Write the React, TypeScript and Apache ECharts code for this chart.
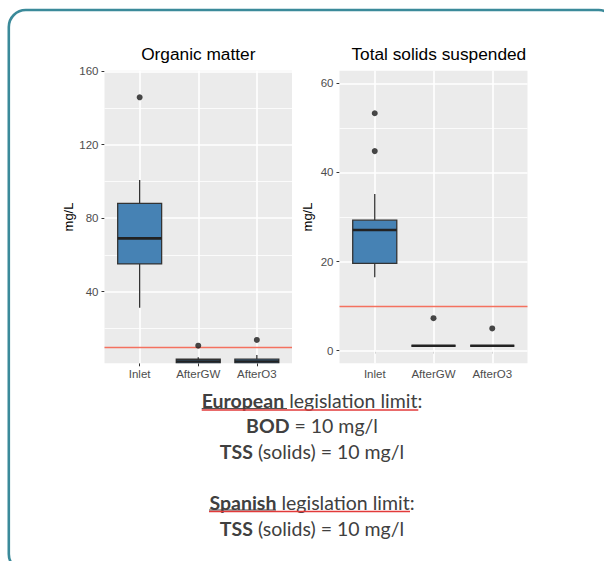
import React, { useEffect, useRef } from 'react';
import * as echarts from 'echarts';

const categories = ['Inlet', 'AfterGW', 'AfterO3'];
const panelTitles = ['Organic matter', 'Total solids suspended'];
const yAxisName = 'mg/L';

// [low whisker, Q1, median, Q3, high whisker] per category
const organicBoxes = [
  [31.3, 55.1, 69.0, 88.1, 100.8],
  [1.0, 1.0, 2.0, 3.2, 4.3],
  [1.0, 1.0, 2.0, 3.3, 5.5],
];
// [category position, value]
const organicOutliers = [
  [1, 145.8],
  [2, 10.6],
  [3, 13.7],
];
const solidsBoxes = [
  [16.5, 19.6, 27.1, 29.3, 35.2],
  [1.1, 1.1, 1.1, 1.1, 1.1],
  [1.1, 1.1, 1.1, 1.1, 1.1],
];
const solidsOutliers = [
  [1, 53.3],
  [1, 44.8],
  [2, 7.3],
  [3, 5.0],
];

const organicTicks = [40, 80, 120, 160];
const organicMinor = [20, 60, 100, 140];
const organicRange = [1.0, 160.3];
const solidsTicks = [0, 20, 40, 60];
const solidsMinor = [10, 30, 50];
const solidsRange = [-2.83, 62.85];
const limitValue = 10;

const textLines = [
  '{b|European} legislation limit:',
  '{b|BOD} = 10 mg/l',
  '{b|TSS} (solids) = 10 mg/l',
  '{b|Spanish} legislation limit:',
  '{b|TSS} (solids) = 10 mg/l',
];

const FONT = '"Liberation Sans", Arial, sans-serif';
const PANEL_BG = '#ebebeb';

function boxRender(params: any, api: any) {
  const x = api.value(0);
  const lo = api.value(1);
  const q1 = api.value(2);
  const med = api.value(3);
  const q3 = api.value(4);
  const hi = api.value(5);
  const half = 0.375;
  const pHi = api.coord([x, hi]);
  const pQ3 = api.coord([x, q3]);
  const pQ1 = api.coord([x, q1]);
  const pLo = api.coord([x, lo]);
  const pMed = api.coord([x, med]);
  const left = api.coord([x - half, q3])[0];
  const right = api.coord([x + half, q3])[0];
  const stroke = '#333333';
  return {
    type: 'group',
    children: [
      { type: 'line', shape: { x1: pHi[0], y1: pHi[1], x2: pQ3[0], y2: pQ3[1] }, style: { stroke, lineWidth: 1.3 } },
      { type: 'line', shape: { x1: pQ1[0], y1: pQ1[1], x2: pLo[0], y2: pLo[1] }, style: { stroke, lineWidth: 1.3 } },
      {
        type: 'rect',
        shape: { x: left, y: pQ3[1], width: right - left, height: pQ1[1] - pQ3[1] },
        style: { fill: '#4682b4', stroke, lineWidth: 1.3 },
      },
      { type: 'line', shape: { x1: left, y1: pMed[1], x2: right, y2: pMed[1] }, style: { stroke: '#222222', lineWidth: 2.6 } },
    ],
  };
}

function gridLines(major: number[], minor: number[]) {
  return [
    ...minor.map((v) => ({ yAxis: v, lineStyle: { width: 0.8, color: '#ffffff', type: 'solid' } })),
    ...major.map((v) => ({ yAxis: v, lineStyle: { width: 1.6, color: '#ffffff', type: 'solid' } })),
    ...categories.map((_, i) => ({ xAxis: i + 1, lineStyle: { width: 1.6, color: '#ffffff', type: 'solid' } })),
  ];
}

export default function App() {
  const ref = useRef<HTMLDivElement>(null);

  useEffect(() => {
    if (!ref.current) return;
    const chart = echarts.init(ref.current, undefined, { renderer: 'svg' });

    const xAxisBase = (gridIndex: number) => ({
      type: 'value',
      gridIndex,
      min: 0.4,
      max: 3.6,
      axisLine: { show: false },
      splitLine: { show: false },
      axisTick: { show: true, customValues: [1, 2, 3], length: 3, lineStyle: { color: '#333', width: 1 } },
      axisLabel: {
        customValues: [1, 2, 3],
        formatter: (v: number) => categories[Math.round(v) - 1] || '',
        color: '#4d4d4d',
        fontSize: 11.5,
        fontFamily: FONT,
        margin: 5,
      },
    });

    const yAxisBase = (gridIndex: number, range: number[], ticks: number[]) => ({
      type: 'value',
      gridIndex,
      min: range[0],
      max: range[1],
      name: yAxisName,
      nameLocation: 'middle',
      nameRotate: 90,
      nameGap: 26,
      nameTextStyle: { color: '#000', fontSize: 13, fontFamily: FONT },
      axisLine: { show: false },
      splitLine: { show: false },
      axisTick: { show: true, customValues: ticks, length: 3, lineStyle: { color: '#333', width: 1 } },
      axisLabel: { customValues: ticks, color: '#4d4d4d', fontSize: 11.5, fontFamily: FONT, margin: 6 },
    });

    const textY = [400, 425, 451, 502, 528];
    const TEXT_FONT = 'Lato, "Open Sans", sans-serif';

    const graphics: any[] = [
      {
        type: 'rect',
        shape: { x: 8.8, y: 10, width: 607, height: 561, r: 17 },
        style: { fill: 'none', stroke: '#3b8a9a', lineWidth: 2.6 },
        silent: true,
      },
    ];
    textLines.forEach((txt, i) => {
      graphics.push({
        type: 'text',
        x: 312,
        y: textY[i],
        style: {
          text: txt,
          fontSize: 19.5,
          fontFamily: TEXT_FONT,
          fill: '#404040',
          align: 'center',
          verticalAlign: 'middle',
          rich: {
            b: { fontSize: 19.5, fontFamily: TEXT_FONT, fontWeight: 'bold', fill: '#404040' },
          },
        },
      });
    });
    // red spell-check style underlines and the bold-word underline
    graphics.push(
      { type: 'line', shape: { x1: 201.7, y1: 408.6, x2: 287, y2: 408.6 }, style: { stroke: '#404040', lineWidth: 1 } },
      { type: 'line', shape: { x1: 201.7, y1: 410, x2: 418.3, y2: 410 }, style: { stroke: '#e23a3a', lineWidth: 1.5 } },
      { type: 'line', shape: { x1: 209, y1: 510, x2: 276, y2: 510 }, style: { stroke: '#404040', lineWidth: 1 } },
      { type: 'line', shape: { x1: 209, y1: 511.4, x2: 410, y2: 511.4 }, style: { stroke: '#e23a3a', lineWidth: 1.5 } }
    );

    const titleStyle = { fontSize: 17.3, fontWeight: 'normal', color: '#000', fontFamily: FONT };
    const option: any = {
      animation: false,
      backgroundColor: '#ffffff',
      title: [
        { text: panelTitles[0], left: 198.3, top: 45, padding: 0, textAlign: 'center', textStyle: titleStyle },
        { text: panelTitles[1], left: 438.8, top: 45, padding: 0, textAlign: 'center', textStyle: titleStyle },
      ],
      grid: [
        { left: 104.5, top: 70.7, width: 187.5, height: 292.6, show: true, backgroundColor: PANEL_BG, borderWidth: 0, containLabel: false },
        { left: 339.5, top: 70.7, width: 188, height: 292.6, show: true, backgroundColor: PANEL_BG, borderWidth: 0, containLabel: false },
      ],
      xAxis: [xAxisBase(0), xAxisBase(1)],
      yAxis: [yAxisBase(0, organicRange, organicTicks), yAxisBase(1, solidsRange, solidsTicks)],
      graphic: graphics,
      series: [
        {
          type: 'scatter',
          xAxisIndex: 0,
          yAxisIndex: 0,
          data: [],
          z: 1,
          silent: true,
          markLine: { silent: true, symbol: 'none', label: { show: false }, z: 1, animation: false, data: gridLines(organicTicks, organicMinor) },
        },
        {
          type: 'scatter',
          xAxisIndex: 1,
          yAxisIndex: 1,
          data: [],
          z: 1,
          silent: true,
          markLine: { silent: true, symbol: 'none', label: { show: false }, z: 1, animation: false, data: gridLines(solidsTicks, solidsMinor) },
        },
        {
          type: 'scatter',
          xAxisIndex: 0,
          yAxisIndex: 0,
          data: [],
          z: 2,
          silent: true,
          markLine: { silent: true, symbol: 'none', label: { show: false }, z: 2, animation: false, data: [{ yAxis: limitValue, lineStyle: { color: '#f4715f', width: 1.4, type: 'solid' } }] },
        },
        {
          type: 'scatter',
          xAxisIndex: 1,
          yAxisIndex: 1,
          data: [],
          z: 2,
          silent: true,
          markLine: { silent: true, symbol: 'none', label: { show: false }, z: 2, animation: false, data: [{ yAxis: limitValue, lineStyle: { color: '#f4715f', width: 1.4, type: 'solid' } }] },
        },
        {
          type: 'custom',
          xAxisIndex: 0,
          yAxisIndex: 0,
          z: 3,
          clip: true,
          renderItem: boxRender,
          encode: { x: 0, y: [1, 2, 3, 4, 5] },
          data: organicBoxes.map((b, i) => [i + 1, ...b]),
        },
        {
          type: 'custom',
          xAxisIndex: 1,
          yAxisIndex: 1,
          z: 3,
          clip: true,
          renderItem: boxRender,
          encode: { x: 0, y: [1, 2, 3, 4, 5] },
          data: solidsBoxes.map((b, i) => [i + 1, ...b]),
        },
        {
          type: 'scatter',
          xAxisIndex: 0,
          yAxisIndex: 0,
          z: 4,
          symbolSize: 6,
          itemStyle: { color: '#1a1a1a' },
          data: organicOutliers,
        },
        {
          type: 'scatter',
          xAxisIndex: 1,
          yAxisIndex: 1,
          z: 4,
          symbolSize: 6,
          itemStyle: { color: '#1a1a1a' },
          data: solidsOutliers,
        },
      ],
    };

    chart.setOption(option);
    return () => {
      chart.dispose();
    };
  }, []);

  return (
    <div
      ref={ref}
      style={{ position: 'fixed', left: 0, top: 0, width: 604, height: 561, background: '#fff' }}
    />
  );
}
